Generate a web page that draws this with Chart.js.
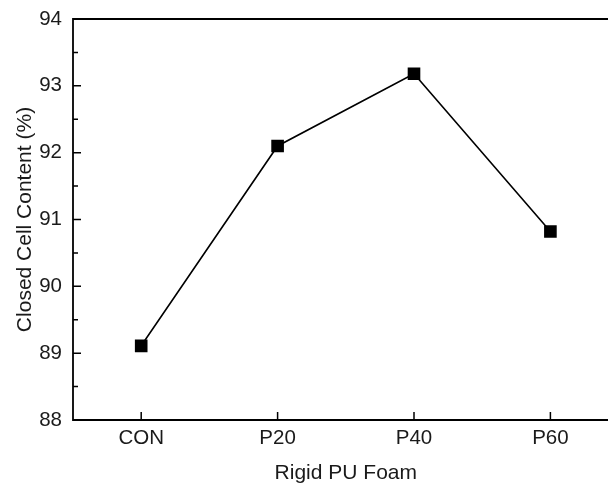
<!DOCTYPE html>
<html><head><meta charset="utf-8">
<script src="https://cdn.jsdelivr.net/npm/chart.js@4/dist/chart.umd.min.js"></script>
<style>html,body{margin:0;padding:0;background:#fff;overflow:hidden;width:608px;height:486px}
#wrap{width:628px;height:486px;position:relative}</style>
</head><body><div id="wrap"><canvas id="c" width="628" height="486"></canvas></div>
<script>
const categories = ["CON", "P20", "P40", "P60"];
const closedCell = [89.11, 92.10, 93.18, 90.82];
const yTicks = [88, 89, 90, 91, 92, 93, 94];
const yMinorTicks = [88.5, 89.5, 90.5, 91.5, 92.5, 93.5];

const FONT = "'Liberation Sans', Arial, sans-serif";
const TXT = '#1a1a1a';

const frame = {
  id: 'frame',
  afterDraw(chart) {
    const {ctx, chartArea: a, scales} = chart;
    ctx.save();
    ctx.strokeStyle = '#000';
    ctx.lineWidth = 1.8;
    ctx.beginPath();
    ctx.moveTo(a.left, a.bottom); ctx.lineTo(a.left, a.top); ctx.lineTo(a.right, a.top);
    ctx.lineTo(a.right, a.bottom); ctx.closePath();
    ctx.stroke();
    ctx.lineWidth = 1.5;
    ctx.beginPath();
    yTicks.forEach(v => { const y = scales.y.getPixelForValue(v); ctx.moveTo(a.left, y); ctx.lineTo(a.left + 8, y); });
    yMinorTicks.forEach(v => { const y = scales.y.getPixelForValue(v); ctx.moveTo(a.left, y); ctx.lineTo(a.left + 5, y); });
    categories.forEach((c, i) => { const x = scales.x.getPixelForValue(i); ctx.moveTo(x, a.bottom); ctx.lineTo(x, a.bottom - 8); });
    ctx.stroke();
    ctx.restore();
  }
};

new Chart(document.getElementById('c'), {
  type: 'line',
  data: {
    labels: categories,
    datasets: [{
      data: closedCell,
      borderColor: '#000',
      borderWidth: 1.6,
      backgroundColor: '#000',
      pointStyle: 'rect',
      pointRadius: 7.8,
      pointHoverRadius: 7.8,
      tension: 0
    }]
  },
  options: {
    responsive: false,
    animation: false,
    events: [],
    layout: { padding: { top: 19, right: 9.4, left: 0, bottom: 0 } },
    plugins: { legend: { display: false }, tooltip: { enabled: false } },
    scales: {
      x: {
        offset: true,
        grid: { display: false, drawTicks: false },
        border: { display: false },
        ticks: { color: TXT, font: { family: FONT, size: 20.5 }, padding: 6 },
        title: { display: true, text: 'Rigid PU Foam', color: TXT, font: { family: FONT, size: 21 }, padding: { top: 4, bottom: 0 } },
        afterFit(s) { s.height = 66; s.paddingLeft = 0; s.paddingRight = 0; }
      },
      y: {
        min: 88, max: 94,
        afterBuildTicks(s) { s.ticks = yTicks.map(v => ({ value: v })); },
        grid: { display: false, drawTicks: false },
        border: { display: false },
        ticks: { color: TXT, font: { family: FONT, size: 20.5 }, padding: 11 },
        title: { display: true, text: 'Closed Cell Content (%)', color: TXT, font: { family: FONT, size: 21 }, padding: { top: 12.4, bottom: 4 } },
        afterFit(s) { s.width = 73; s.paddingTop = 0; s.paddingBottom = 0; }
      }
    }
  },
  plugins: [frame]
});
</script></body></html>
